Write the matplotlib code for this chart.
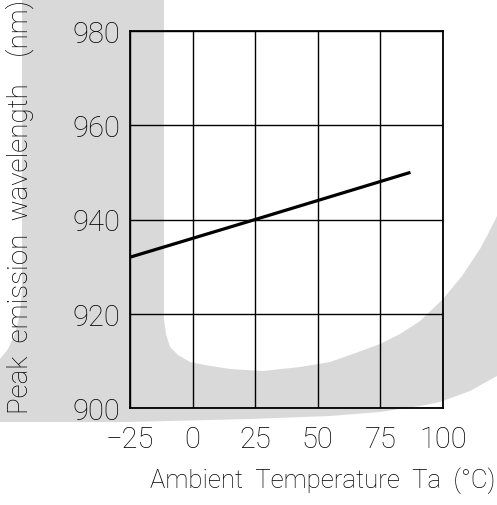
import numpy as np
import matplotlib
matplotlib.use("Agg")
import matplotlib.pyplot as plt
from matplotlib.patches import Polygon

# data
temps = [-25, 25, 87]
peak_wl = [932, 940, 950]

x_ticks = [-25, 0, 25, 50, 75, 100]
y_ticks = [900, 920, 940, 960, 980]

W, H = 497, 506
fig = plt.figure(figsize=(W / 100, H / 100), dpi=100)

# grey background logo (pixel outline, y downwards)
logo = [(22, 0), (22, 290), (20, 315), (15, 335), (8, 350), (0, 360),
        (0, 423), (130, 423), (250, 420), (330, 417), (380, 413), (420, 407),
        (440, 403), (470, 392), (497, 377),
        (497, 217), (488, 235), (480, 250), (462, 277), (443, 300), (420, 322),
        (400, 335), (380, 345), (350, 356), (330, 363), (300, 368), (263, 372),
        (230, 370), (205, 366), (190, 363), (178, 356), (170, 348), (166, 335),
        (164, 320), (164, 0)]
pts = [(px / W, 1 - py / H) for px, py in logo]
fig.patches.append(Polygon(pts, closed=True, transform=fig.transFigure,
                           facecolor='#d9d9d9', edgecolor='none', zorder=0))

ax = fig.add_axes([130 / W, 1 - 409 / H, 313 / W, 377 / H])
ax.set_zorder(2)
ax.patch.set_alpha(0)

font = dict(family='Roboto', weight='light')

ax.plot(temps, peak_wl, color='black', lw=2.3, solid_capstyle='butt', zorder=3)

ax.set_xlim(-25, 100)
ax.set_ylim(900, 980)
ax.set_xticks(x_ticks)
ax.set_yticks(y_ticks)
ax.set_xticklabels([str(t).replace('-', '\u2212') for t in x_ticks], fontsize=21, **font)
ax.set_yticklabels([str(t) for t in y_ticks], fontsize=21, **font)
ax.tick_params(axis='x', length=0, pad=12)
ax.tick_params(axis='y', length=0, pad=7)
ax.grid(True, color='black', lw=1)
for s in ax.spines.values():
    s.set_linewidth(1.3)

fig.text(20 / W, 1 - 207 / H, 'Peak  emission  wavelength    (nm)', rotation=90,
         ha='center', va='center', fontsize=20, zorder=3, **font)
fig.text(495 / W, 1 - 481 / H, 'Ambient  Temperature  Ta  (\u00b0C)',
         ha='right', va='center', fontsize=18.5, zorder=3, **font)

fig.savefig('out.png', dpi=100)
